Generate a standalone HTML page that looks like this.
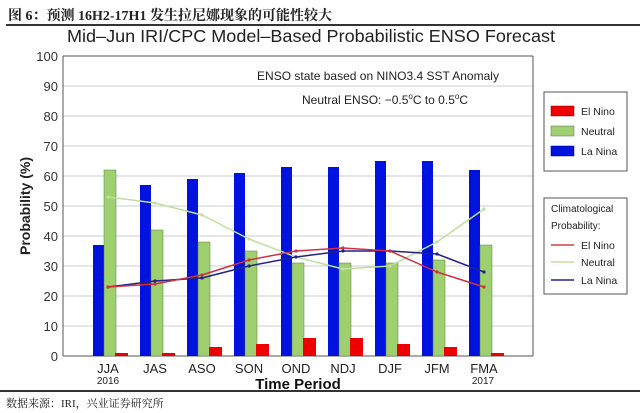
<!DOCTYPE html>
<html><head><meta charset="utf-8"><style>
body{margin:0;background:#fff;}
svg{display:block;font-family:"Liberation Sans","Noto Sans CJK SC",sans-serif;}
</style></head><body>
<svg id="c" width="640" height="413" viewBox="0 0 640 413" xmlns="http://www.w3.org/2000/svg">
<text x="8" y="20" font-size="14" font-weight="bold" font-family="Liberation Serif,Noto Serif CJK SC,serif" fill="#222">图 6：预测 16H2-17H1 发生拉尼娜现象的可能性较大</text>
<line x1="6" y1="25" x2="640" y2="25" stroke="#333" stroke-width="2"/>
<text x="311" y="42" font-size="17.5" text-anchor="middle" fill="#222" textLength="488" lengthAdjust="spacingAndGlyphs">Mid–Jun IRI/CPC Model–Based Probabilistic ENSO Forecast</text>
<g id="grid"></g>
<g id="bars"></g>
<g id="lines"></g>
<g id="axes"></g>
<text x="378" y="80" font-size="12" text-anchor="middle" fill="#222">ENSO state based on NINO3.4 SST Anomaly</text>
<text x="385" y="104" font-size="12" text-anchor="middle" fill="#222">Neutral ENSO: −0.5<tspan font-size="8" dy="-5">o</tspan><tspan dy="5">C to 0.5</tspan><tspan font-size="8" dy="-5">o</tspan><tspan dy="5">C</tspan></text>
<text transform="translate(30,206) rotate(-90)" font-size="14" font-weight="bold" text-anchor="middle" fill="#222">Probability (%)</text>
<text x="298" y="389" font-size="15" font-weight="bold" text-anchor="middle" fill="#111">Time Period</text>
<text x="108" y="384" font-size="10" text-anchor="middle" fill="#222">2016</text>
<text x="483" y="384" font-size="10" text-anchor="middle" fill="#222">2017</text>
<g>
<rect x="544" y="92" width="83" height="79" fill="#fff" stroke="#555"/>
<rect x="551" y="106" width="23" height="10" fill="#e00" stroke="#800" stroke-width="0.5"/><text x="581" y="115" font-size="10.5" fill="#222">El Nino</text>
<rect x="551" y="126" width="23" height="10" fill="#9fd06f" stroke="#666" stroke-width="0.5"/><text x="581" y="135" font-size="10.5" fill="#222">Neutral</text>
<rect x="551" y="146" width="23" height="10" fill="#0012dd" stroke="#006" stroke-width="0.5"/><text x="581" y="155" font-size="10.5" fill="#222">La Nina</text>
</g>
<g>
<rect x="544" y="198" width="83" height="96" fill="#fff" stroke="#555"/>
<text x="551" y="212" font-size="10" fill="#222">Climatological</text>
<text x="551" y="229" font-size="10" fill="#222">Probability:</text>
<line x1="551" y1="245" x2="574" y2="245" stroke="#c44" stroke-width="1.5"/><text x="581" y="249" font-size="10.5" fill="#222">El Nino</text>
<line x1="551" y1="262" x2="574" y2="262" stroke="#bde0a0" stroke-width="1.5"/><text x="581" y="266" font-size="10.5" fill="#222">Neutral</text>
<line x1="551" y1="280" x2="574" y2="280" stroke="#22228a" stroke-width="1.5"/><text x="581" y="284" font-size="10.5" fill="#222">La Nina</text>
</g>
<line x1="0" y1="391" x2="640" y2="391" stroke="#333" stroke-width="2"/>
<text x="6" y="407" font-size="11" font-family="Liberation Serif,Noto Serif CJK SC,serif" fill="#222">数据来源：IRI，兴业证券研究所</text>
</svg>
<script>
const categories=["JJA","JAS","ASO","SON","OND","NDJ","DJF","JFM","FMA"];
const laNina=[37,57,59,61,63,63,65,65,62];
const neutral=[62,42,38,35,31,31,31,32,37];
const elNino=[1,1,3,4,6,6,4,3,1];
const climElNino=[23,24,27,32,35,36,35,28,23];
const climNeutral=[53,51,47,39,33,29,30,38,49];
const climLaNina=[23,25,26,30,33,35,35,34,28];
const yTicks=[0,10,20,30,40,50,60,70,80,90,100];

const NS="http://www.w3.org/2000/svg";
const L=63,R=533,T=56,B=356;
const y=v=>B-(v/100)*(B-T);
const x=i=>110+i*47;
function mk(tag,attrs,parent){const e=document.createElementNS(NS,tag);for(const k in attrs)e.setAttribute(k,attrs[k]);document.getElementById(parent).appendChild(e);return e;}

yTicks.forEach(t=>{
  const g=mk('line',{x1:L,x2:R,y1:y(t),y2:y(t),stroke:t===0||t===100?'#555':'#ccc','stroke-width':1},'grid');
  
  
  const lb=mk('text',{x:L-5,y:y(t)+5,'font-size':13,'text-anchor':'end',fill:'#333'},'axes');
  lb.textContent=t;
  
  
});
mk('line',{x1:L,x2:L,y1:T,y2:B,stroke:'#555'},'axes');
mk('line',{x1:R,x2:R,y1:T,y2:B,stroke:'#555'},'axes');

categories.forEach((c,i)=>{
  const cx=x(i);
  const b1=mk('rect',{x:cx-17,y:y(laNina[i]),width:11,height:B-y(laNina[i]),fill:'#0012dd'},'bars');
  
  
  const b2=mk('rect',{x:cx-6,y:y(neutral[i]),width:12,height:B-y(neutral[i]),fill:'#9fd06f',stroke:'#5a7a40','stroke-width':0.5},'bars');
  
  
  const b3=mk('rect',{x:cx+5,y:y(elNino[i]),width:13,height:B-y(elNino[i]),fill:'#ee0000'},'bars');
  
  
  const lb=mk('text',{x:cx-2,y:373,'font-size':13,'text-anchor':'middle',fill:'#222'},'axes');
  lb.textContent=c;
  
  
});

function line(arr,color,name){
  const p=arr.map((v,i)=>(x(i)-2)+','+y(v)).join(' ');
  const pl=mk('polyline',{points:p,fill:'none',stroke:color,'stroke-width':1.5,'stroke-linejoin':'round'},'lines');
  
  
  arr.forEach((v,i)=>{
    const c=mk('circle',{cx:x(i)-2,cy:y(v),r:1.6,fill:color},'lines');
    
    
  });
}
line(climNeutral,'#bde0a0','clim-neutral-line');
line(climLaNina,'#22228a','clim-la-nina-line');
line(climElNino,'#d03040','clim-el-nino-line');
</script>
</body></html>
